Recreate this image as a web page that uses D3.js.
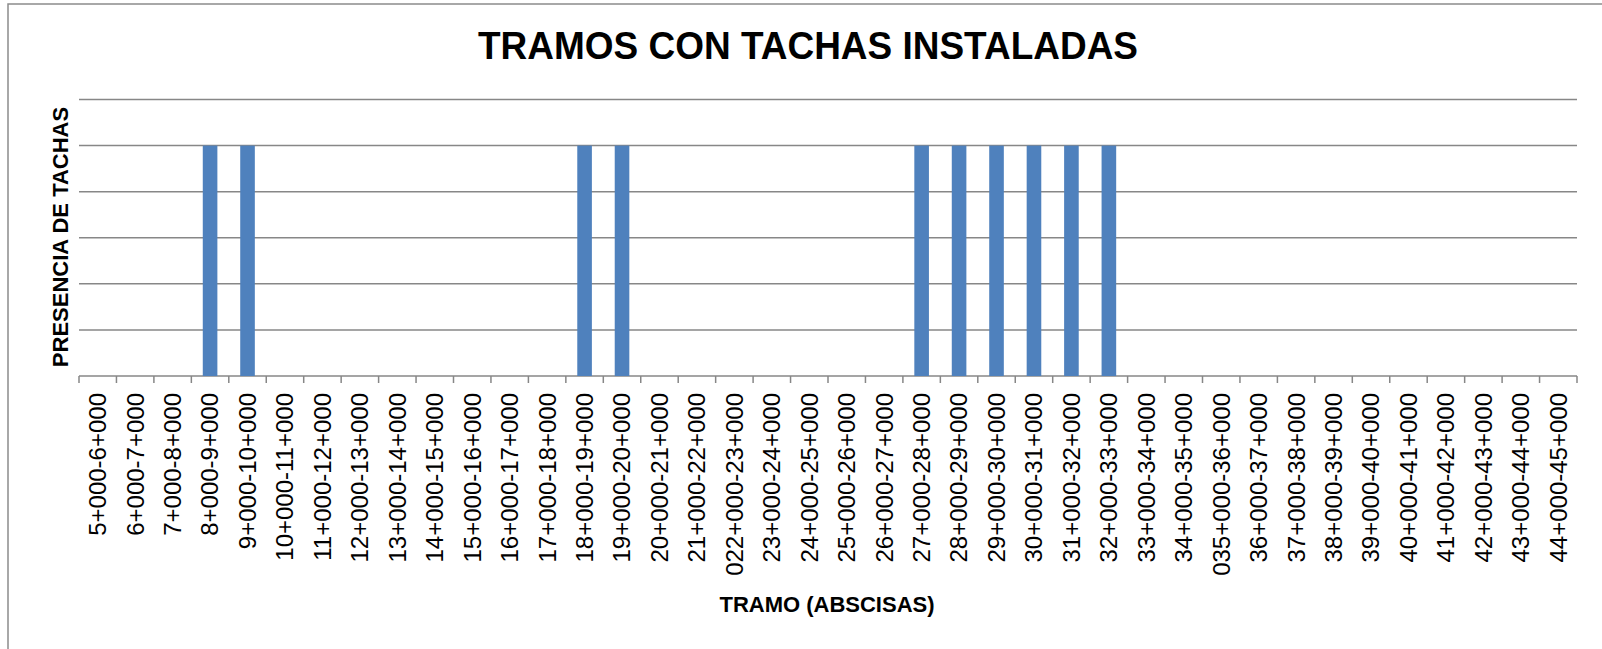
<!DOCTYPE html>
<html>
<head>
<meta charset="utf-8">
<script src="https://cdn.jsdelivr.net/npm/d3@7"></script>
<style>
  body { margin: 0; background: #fff; }
  svg { display: block; font-family: "Liberation Sans", Arial, sans-serif; }
</style>
</head>
<body>
<div id="chart"></div>
<script>
// tramos (abscisas) as labelled in the original
const tramos = [
  "5+000-6+000", "6+000-7+000", "7+000-8+000", "8+000-9+000", "9+000-10+000",
  "10+000-11+000", "11+000-12+000", "12+000-13+000", "13+000-14+000", "14+000-15+000",
  "15+000-16+000", "16+000-17+000", "17+000-18+000", "18+000-19+000", "19+000-20+000",
  "20+000-21+000", "21+000-22+000", "022+000-23+000", "23+000-24+000", "24+000-25+000",
  "25+000-26+000", "26+000-27+000", "27+000-28+000", "28+000-29+000", "29+000-30+000",
  "30+000-31+000", "31+000-32+000", "32+000-33+000", "33+000-34+000", "34+000-35+000",
  "035+000-36+000", "36+000-37+000", "37+000-38+000", "38+000-39+000", "39+000-40+000",
  "40+000-41+000", "41+000-42+000", "42+000-43+000", "43+000-44+000", "44+000-45+000"
];
// 1 = tachas instaladas, 0 = no
const presencia = [
  0, 0, 0, 1, 1, 0, 0, 0, 0, 0,
  0, 0, 0, 1, 1, 0, 0, 0, 0, 0,
  0, 0, 1, 1, 1, 1, 1, 1, 0, 0,
  0, 0, 0, 0, 0, 0, 0, 0, 0, 0
];
const yTicks = [0, 0.2, 0.4, 0.6, 0.8, 1.0, 1.2];

const svgWidth = 1602;
const svgHeight = 649;
const margin = { top: 99.5, right: 25, bottom: 273, left: 79 };
const width = svgWidth - margin.left - margin.right;
const height = svgHeight - margin.top - margin.bottom;

const data = tramos.map((t, i) => ({ tramo: t, value: presencia[i] }));

const svg = d3.select('#chart')
    .append('svg')
    .attr('width', svgWidth)
    .attr('height', svgHeight);

// chart border (only left/top visible in the original)
svg.append('rect')
    .attr('x', 8)
    .attr('y', 4)
    .attr('width', svgWidth + 20)
    .attr('height', svgHeight + 20)
    .style('fill', 'none')
    .style('stroke', '#8c8c8c')
    .style('stroke-width', 1.5);

const g = svg.append('g')
    .attr('transform', `translate(${margin.left},${margin.top})`);

var xScale = d3.scaleBand()
    .domain(tramos)
    .range([0, width])
    .padding(0);

var yScale = d3.scaleLinear()
    .domain([0, 1.2])
    .range([height, 0]);

// gridlines
g.selectAll('.grid')
    .data(yTicks)
    .enter().append('line')
    .attr('class', 'grid')
    .attr('x1', 0)
    .attr('x2', width)
    .attr('y1', d => yScale(d))
    .attr('y2', d => yScale(d))
    .style('stroke', '#878787')
    .style('stroke-width', 1.5);

// bars
const barFrac = 0.39;
g.selectAll('.bar')
    .data(data)
    .enter().append('rect')
    .attr('class', 'bar')
    .attr('x', d => xScale(d.tramo) + xScale.bandwidth() * (1 - barFrac) / 2)
    .attr('y', d => yScale(d.value))
    .attr('width', xScale.bandwidth() * barFrac)
    .attr('height', d => height - yScale(d.value))
    .attr('fill', '#4f81bd');

// x axis: labels centred in band, ticks at band boundaries
var xAxis = d3.axisBottom(xScale).tickSize(0).tickPadding(0);
const ax = g.append('g')
    .attr('transform', 'translate(0,' + height + ')')
    .call(xAxis);
ax.select('.domain').remove();
ax.selectAll('text')
    .attr('transform', 'rotate(-90)')
    .attr('x', -17)
    .attr('y', 0)
    .attr('dy', '0.35em')
    .style('text-anchor', 'end')
    .style('font-family', '"Liberation Sans", Arial, sans-serif')
    .style('font-size', '24px')
    .style('fill', '#000');

g.selectAll('.xtick')
    .data(d3.range(tramos.length + 1))
    .enter().append('line')
    .attr('class', 'xtick')
    .attr('x1', i => i * xScale.step())
    .attr('x2', i => i * xScale.step())
    .attr('y1', height)
    .attr('y2', height + 7)
    .style('stroke', '#878787')
    .style('stroke-width', 1.5);

// title
svg.append('text')
    .attr('x', 808)
    .attr('y', 59)
    .attr('text-anchor', 'middle')
    .attr('textLength', 660)
    .attr('lengthAdjust', 'spacingAndGlyphs')
    .style('font-size', '38px')
    .style('font-weight', 'bold')
    .text('TRAMOS CON TACHAS INSTALADAS');

// axis titles
svg.append('text')
    .attr('x', 827)
    .attr('y', 612)
    .attr('text-anchor', 'middle')
    .style('font-size', '22px')
    .style('font-weight', 'bold')
    .text('TRAMO (ABSCISAS)');

svg.append('text')
    .attr('transform', 'translate(68,237) rotate(-90)')
    .attr('text-anchor', 'middle')
    .style('font-size', '22px')
    .style('font-weight', 'bold')
    .text('PRESENCIA DE TACHAS');
</script>
</body>
</html>
